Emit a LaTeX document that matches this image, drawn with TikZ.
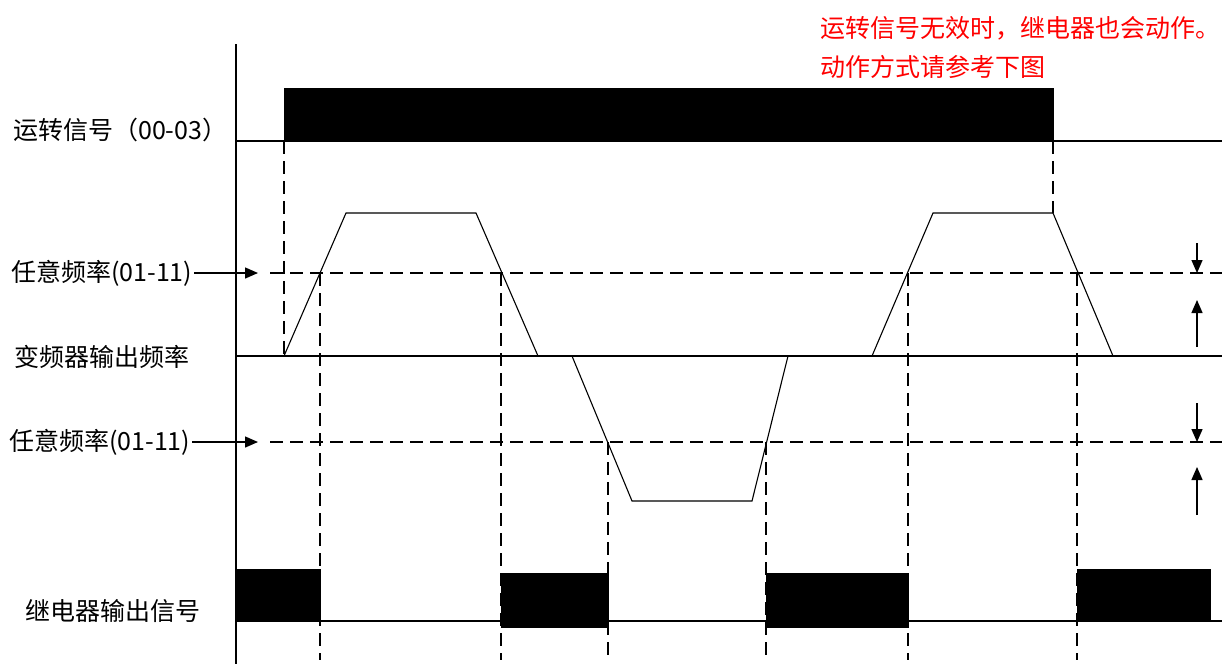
\documentclass[tikz,border=0pt]{standalone}
\usepackage{fontspec}
\newfontfamily\cjk{Noto Sans CJK SC}
\usetikzlibrary{arrows.meta}
\tikzset{
  sig/.style={line width=1.4pt},
  dline/.style={line width=1.4pt, dash pattern=on 13pt off 7pt},
  curve/.style={line width=1.1pt},
  lbl/.style={font=\cjk\fontsize{25}{25}\selectfont, inner sep=0pt, anchor=west},
  redlbl/.style={font=\cjk\fontsize{25}{25}\selectfont, inner sep=0pt, anchor=west, text=red},
  blk/.style={fill=black, draw=black, line width=0.8pt},
  tipped/.style={line width=1.4pt, -{Triangle[length=13pt,width=11pt]}}
}
\begin{document}
\begin{tikzpicture}[x=1pt,y=-1pt]
\useasboundingbox (0,0) rectangle (1226,664);
\fill[white] (0,0) rectangle (1226,664);

% red note
\node[redlbl] (note1) at (820,28) {运转信号无效时，继电器也会动作。};
\node[redlbl] (note2) at (820,67) {动作方式请参考下图};

% labels
\node[lbl] (run) at (13,130) {运转信号（00-03）};
\node[lbl] (f1) at (11,273) {任意频率(01-11)};
\node[lbl] (out) at (14,357) {变频器输出频率};
\node[lbl] (f2) at (9,442) {任意频率(01-11)};
\node[lbl] (relay) at (25,611) {继电器输出信号};

% axis
\coordinate (axtop) at (236,44);
\coordinate (axbot) at (236,664);
\draw[sig] (axtop) -- (axbot);

% run signal
\coordinate (r0) at (236,141);
\coordinate (r1) at (1222,141);
\fill[blk] (284,88) rectangle (1053,141);
\draw[sig] (r0) -- (r1);

% frequency baseline
\coordinate (b0) at (236,356);
\coordinate (b1) at (1222,356);
\draw[sig] (b0) -- (b1);

% arbitrary frequency level lines
\coordinate (t1) at (258,273);
\coordinate (t2) at (258,442);
\draw[tipped] (f1.east) ++(2,0) -- (t1);
\draw[tipped] (f2.east) ++(2,0) -- (t2);
\coordinate (d1a) at (270,273);
\coordinate (d1b) at (1222,273);
\coordinate (d2a) at (270,442);
\coordinate (d2b) at (1222,442);
\draw[dline] (d1a) -- (d1b);
\draw[dline] (d2a) -- (d2b);

% frequency curve
\draw[curve] (284,356) -- (346,213) -- (476,213) -- (538,356);
\draw[curve] (572,356) -- (632,501) -- (752,501) -- (788,356);
\draw[curve] (872,356) -- (933,213) -- (1053,213) -- (1113,356);

% dashed verticals
\draw[dline] (284,141) -- (284,356);
\draw[dline] (1053,141) -- (1053,213);
\foreach \x/\y in {320/273, 501/273, 608/442, 766/442, 908/273, 1077/273}
  \draw[dline] (\x,\y) -- (\x,660);

% right arrows
\coordinate (u1a) at (1197,243); \coordinate (u1b) at (1197,273);
\coordinate (u2a) at (1197,347); \coordinate (u2b) at (1197,300);
\coordinate (u3a) at (1197,403); \coordinate (u3b) at (1197,442);
\coordinate (u4a) at (1197,515); \coordinate (u4b) at (1197,467);
\draw[tipped] (u1a) -- (u1b);
\draw[tipped] (u2a) -- (u2b);
\draw[tipped] (u3a) -- (u3b);
\draw[tipped] (u4a) -- (u4b);

% relay output
\coordinate (o0) at (236,621);
\coordinate (o1) at (1222,621);
\draw[sig] (o0) -- (o1);
\fill[blk] (236,569) rectangle (320,621);
\fill[blk] (501,573) rectangle (608,627);
\fill[blk] (766,573) rectangle (908,627);
\fill[blk] (1077,569) rectangle (1210,621);
\end{tikzpicture}
\end{document}
